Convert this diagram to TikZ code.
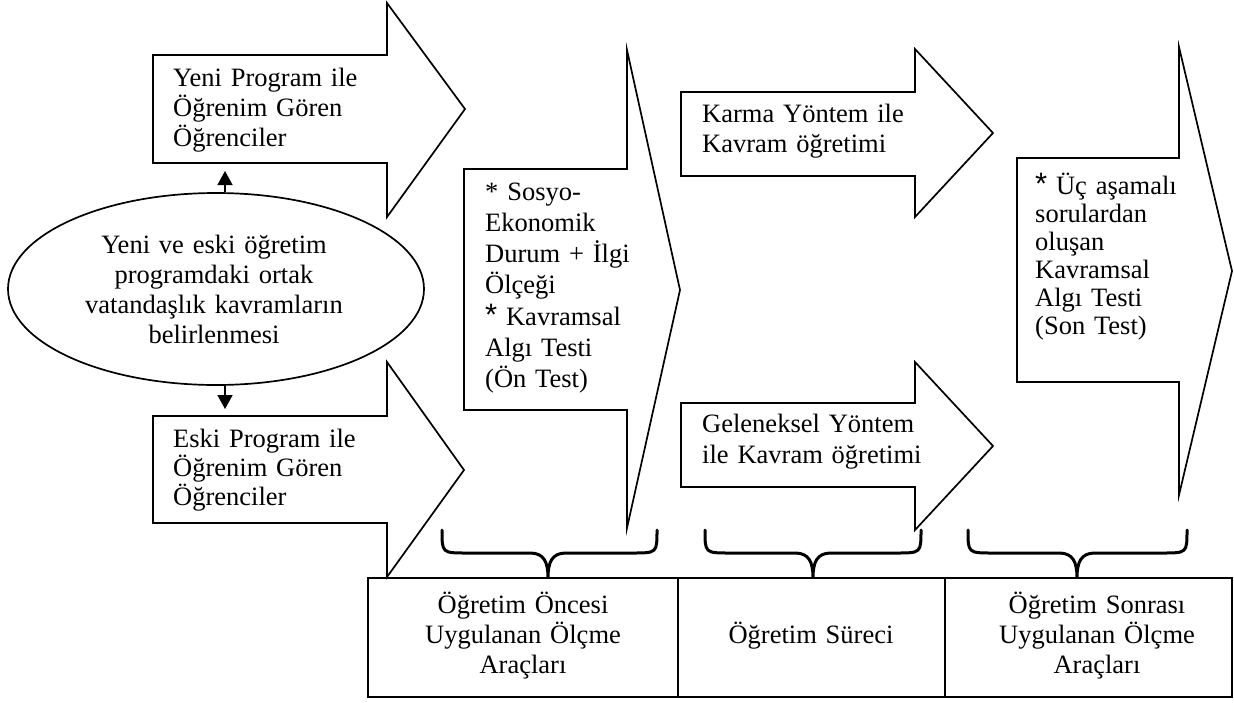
\documentclass[tikz,border=0pt]{standalone}
\usepackage{fontspec}
\setmainfont{Liberation Serif}
\newfontfamily\astfont{Liberation Sans}
\newcommand\bigast{{\astfont\fontsize{31}{31}\selectfont *}}
\usetikzlibrary{shapes.geometric,arrows.meta}
\begin{document}
\begin{tikzpicture}[x=1pt,y=-1pt,
  outline/.style={draw=black, line width=1.7pt, line join=miter, miter limit=20},
  bracestyle/.style={draw=black, line width=3pt, line cap=round},
  boxstyle/.style={draw=black, line width=1.8pt},
  conn/.style={draw=black, line width=1.6pt, -{Triangle[length=14pt,width=15pt]}},
  ltxt/.style={inner sep=0pt, text width=300pt, align=left, anchor=base west},
  ctxt/.style={inner sep=0pt, text width=340pt, align=center, anchor=base},
  fs/.style={font=\fontsize{26.5}{#1}\selectfont}
]
\useasboundingbox (0,0) rectangle (1234,702);
\fill[white] (0,0) rectangle (1234,702);

% block arrows
\draw[outline] (153,55) -- (387,55) -- (387,3) -- (465,109) -- (387,217) -- (387,163) -- (153,163) -- cycle;
\draw[outline] (153,416) -- (387,416) -- (387,362) -- (464,470) -- (387,577) -- (387,523) -- (153,523) -- cycle;
\draw[outline] (464,169) -- (627,169) -- (627,50) -- (680,290) -- (627,528) -- (627,410) -- (464,410) -- cycle;
\draw[outline] (681,92) -- (915,92) -- (915,49) -- (993,133) -- (915,217) -- (915,176) -- (681,176) -- cycle;
\draw[outline] (681,403) -- (915,403) -- (915,362) -- (993,446) -- (915,530) -- (915,487) -- (681,487) -- cycle;
\draw[outline] (1017,158) -- (1179,158) -- (1179,47) -- (1232,271) -- (1179,495) -- (1179,382) -- (1017,382) -- cycle;

% texts in arrows
\node[ltxt, fs=30] (yeniT) at (173,86) {Yeni Program ile\\Öğrenim Gören\\Öğrenciler};
\node[ltxt, fs=29] (eskiT) at (173,447) {Eski Program ile\\Öğrenim Gören\\Öğrenciler};
\node[ltxt, fs=31.3] (onT) at (485,200) {* Sosyo-\\Ekonomik\\Durum + İlgi\\Ölçeği\\\bigast{} Kavramsal\\Algı Testi\\(Ön Test)};
\node[ltxt, fs=30] (karmaT) at (702,122) {Karma Yöntem ile\\Kavram öğretimi};
\node[ltxt, fs=31] (gelT) at (702,432) {Geleneksel Yöntem\\ile Kavram öğretimi};
\node[ltxt, fs=28] (sonT) at (1035,194) {\bigast{} Üç aşamalı\\sorulardan\\oluşan\\Kavramsal\\Algı Testi\\(Son Test)};

% ellipse
\node[ellipse, draw=black, line width=1.7pt, minimum width=416pt, minimum height=192pt, inner sep=0pt] (ell) at (216,289) {};
\node[ctxt, fs=30] (ellT) at (214,253) {Yeni ve eski öğretim\\programdaki ortak\\vatandaşlık kavramların\\belirlenmesi};
\coordinate (upEnd) at (225,171);
\coordinate (downEnd) at (225,409);
\draw[conn] (ell.85 -| upEnd) -- (upEnd);
\draw[conn] (ell.-85 -| downEnd) -- (downEnd);

% braces
\newcommand\mybrace[3]{%
  \draw[bracestyle] (#1,530) .. controls (#1,553) and (#1,553) .. ({#1+25},553)
    -- ({#2-18},553) .. controls ({#2-4},553) and (#2,562) .. (#2,578)
    .. controls (#2,562) and ({#2+4},553) .. ({#2+18},553)
    -- ({#3-25},553) .. controls (#3,553) and (#3,553) .. (#3,530);}
\mybrace{442}{548}{657}
\mybrace{705}{813}{921}
\mybrace{968}{1077}{1187}

% bottom table
\draw[boxstyle] (368,578) rectangle (1232,697);
\draw[boxstyle] (678,578) -- (678,697);
\draw[boxstyle] (945,578) -- (945,697);
\node[ctxt, fs=30] (b1T) at (523,613) {Öğretim Öncesi\\Uygulanan Ölçme\\Araçları};
\node[ctxt, fs=30] (b2T) at (811,643) {Öğretim Süreci};
\node[ctxt, fs=30] (b3T) at (1097,613) {Öğretim Sonrası\\Uygulanan Ölçme\\Araçları};
\end{tikzpicture}
\end{document}
